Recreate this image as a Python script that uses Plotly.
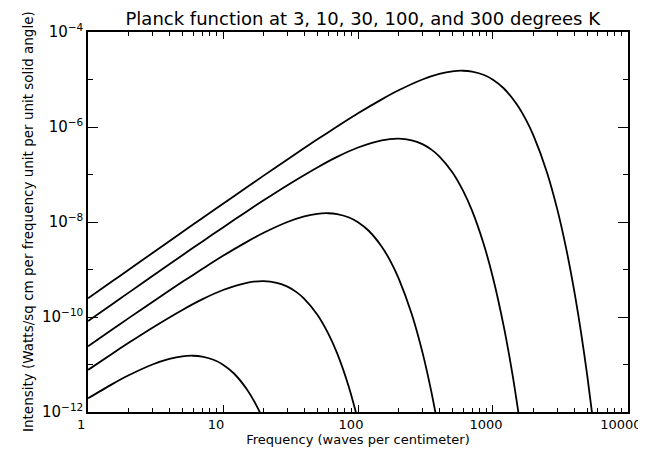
import plotly.graph_objects as go

# Frequencies (waves per cm) and intensities
freq_3K = [1, 1.5, 2, 3, 4, 5, 6, 7, 8.5, 10, 12, 15, 17.5, 20, 25]
int_3K = [1.94e-12, 3.82e-12, 5.92e-12, 1.00e-11, 1.31e-11, 1.49e-11, 1.53e-11, 1.47e-11,
          1.26e-11, 9.93e-12, 6.54e-12, 3.02e-12, 1.45e-12, 6.51e-13, 1.16e-13]

freq_10K = [1, 1.5, 2, 3, 5, 7, 10, 15, 20, 25, 30, 35, 40, 50, 60, 70, 85, 100]
int_10K = [7.70e-12, 1.67e-11, 2.86e-11, 5.96e-11, 1.41e-10, 2.35e-10, 3.70e-10, 5.25e-10,
           5.68e-10, 5.24e-10, 4.35e-10, 3.34e-10, 2.42e-10, 1.12e-10, 4.58e-11, 1.73e-11,
           3.57e-12, 6.73e-13]

freq_30K = [1, 1.5, 2, 3, 5, 7, 10, 15, 20, 30, 40, 50, 60, 70, 85, 100, 120, 150, 175, 200,
            250, 300, 350, 400]
int_30K = [2.42e-11, 5.39e-11, 9.47e-11, 2.08e-10, 5.49e-10, 1.02e-9, 1.94e-9, 3.82e-9,
           5.92e-9, 1.00e-8, 1.31e-8, 1.49e-8, 1.53e-8, 1.47e-8, 1.26e-8, 9.92e-9, 6.54e-9,
           3.02e-9, 1.45e-9, 6.51e-10, 1.16e-10, 1.82e-11, 2.62e-12, 3.55e-13]

freq_100K = [1, 1.5, 2, 3, 5, 7, 10, 15, 20, 30, 50, 70, 100, 150, 200, 250, 300, 350, 400,
             500, 600, 700, 850, 1000, 1200, 1400, 1600]
int_100K = [8.22e-11, 1.84e-10, 3.26e-10, 7.29e-10, 2.00e-9, 3.86e-9, 7.70e-9, 1.67e-8,
            2.86e-8, 5.96e-8, 1.41e-7, 2.35e-7, 3.70e-7, 5.25e-7, 5.68e-7, 5.24e-7, 4.35e-7,
            3.34e-7, 2.42e-7, 1.12e-7, 4.58e-8, 1.73e-8, 3.57e-9, 6.73e-10, 6.52e-11,
            5.85e-12, 4.91e-13]

freq_300K = [1, 1.5, 2, 3, 5, 7, 10, 15, 20, 30, 50, 70, 100, 150, 200, 300, 400, 500, 600,
             700, 850, 1000, 1200, 1500, 1750, 2000, 2500, 3000, 3500, 4000, 4500, 5000, 5500]
int_300K = [2.48e-10, 5.57e-10, 9.89e-10, 2.22e-9, 6.14e-9, 1.20e-8, 2.42e-8, 5.39e-8,
            9.47e-8, 2.08e-7, 5.49e-7, 1.02e-6, 1.94e-6, 3.82e-6, 5.92e-6, 1.00e-5, 1.31e-5,
            1.49e-5, 1.53e-5, 1.47e-5, 1.26e-5, 9.92e-6, 6.54e-6, 3.02e-6, 1.45e-6, 6.51e-7,
            1.16e-7, 1.82e-8, 2.62e-9, 3.55e-10, 4.6e-11, 5.75e-12, 6.9e-13]

series = [(freq_3K, int_3K), (freq_10K, int_10K), (freq_30K, int_30K),
          (freq_100K, int_100K), (freq_300K, int_300K)]

x_tickvals = [1, 10, 100, 1000, 10000]
x_ticktext = ["1", "10", "100", "1000", "10000"]

y_tickvals = [1e-12, 1e-10, 1e-8, 1e-6, 1e-4]
y_ticktext = ["10<sup>\u221212</sup>", "10<sup>\u221210</sup>", "10<sup>\u22128</sup>",
              "10<sup>\u22126</sup>", "10<sup>\u22124</sup>"]
y_minor = [1e-11, 1e-9, 1e-7, 1e-5]

X_RANGE = [-0.0005, 4.0005]
Y_RANGE = [-12, -4]

FONT = "DejaVu Sans"

fig = go.Figure()
for fx, fy in series:
    fig.add_trace(go.Scatter(x=fx, y=fy, mode="lines",
                             line=dict(color="black", width=1.8, shape="spline", smoothing=0.8),
                             showlegend=False, hoverinfo="skip"))

# invisible helper traces so the minor-tick axes are drawn
for ax in ["x2", "x3"]:
    fig.add_trace(go.Scatter(x=[x_tickvals[0]], y=[y_tickvals[0]], xaxis=ax, yaxis="y",
                             mode="markers", marker=dict(opacity=0), showlegend=False,
                             hoverinfo="skip"))

minor_axis = dict(
    type="log", range=X_RANGE, overlaying="x", anchor="y",
    showgrid=False, zeroline=False, showline=False, automargin=False,
    tickmode="linear", tick0=0, dtick="D1", showticklabels=False,
    ticks="inside", ticklen=4, tickwidth=1.2, tickcolor="black",
)

# page body has an 8px margin, so the figure is 8px smaller than the window
fig.update_layout(
    width=638, height=442,
    margin=dict(l=80, r=18, t=24, b=38),
    paper_bgcolor="white", plot_bgcolor="white",
    font=dict(family=FONT, color="black", size=14),
    title=dict(text="Planck function at 3, 10, 30, 100, and 300 degrees K",
               x=0.556, xanchor="center", y=0.975, yanchor="middle",
               font=dict(family=FONT, size=18, color="black")),
    xaxis=dict(
        type="log", range=X_RANGE, showgrid=False, zeroline=False, automargin=False,
        showline=True, linecolor="black", linewidth=1.5, mirror="ticks",
        tickmode="array", tickvals=x_tickvals, ticktext=x_ticktext,
        ticklabeloverflow="allow", ticklabelshift=-7,
        ticks="inside", ticklen=7, tickwidth=1.2, tickcolor="black",
        tickfont=dict(size=13),
        minor=dict(dtick="D1", ticks="inside", ticklen=4, tickwidth=1.2,
                   tickcolor="black", showgrid=False),
        title=dict(text="Frequency (waves per centimeter)", font=dict(size=13), standoff=4),
    ),
    xaxis2=dict(minor_axis, side="bottom"),
    xaxis3=dict(minor_axis, side="top"),
    yaxis=dict(
        type="log", range=Y_RANGE, showgrid=False, zeroline=False, automargin=False,
        showline=True, linecolor="black", linewidth=1.5, mirror="ticks",
        tickmode="array", tickvals=y_tickvals, ticktext=y_ticktext,
        ticks="inside", ticklen=10, tickwidth=1.2, tickcolor="black",
        tickfont=dict(size=15),
        minor=dict(tickmode="array", tickvals=y_minor, ticks="inside", ticklen=5,
                   tickwidth=1.2, tickcolor="black", showgrid=False),
    ),
)

fig.add_annotation(
    text="Intensity (Watts/sq cm per frequency unit per unit solid angle)",
    xref="paper", yref="paper", x=0, y=0.5, xanchor="center", yanchor="middle",
    xshift=-60, textangle=-90, showarrow=False,
    font=dict(family=FONT, size=13.5, color="black"),
)

fig.write_html("out.html")
